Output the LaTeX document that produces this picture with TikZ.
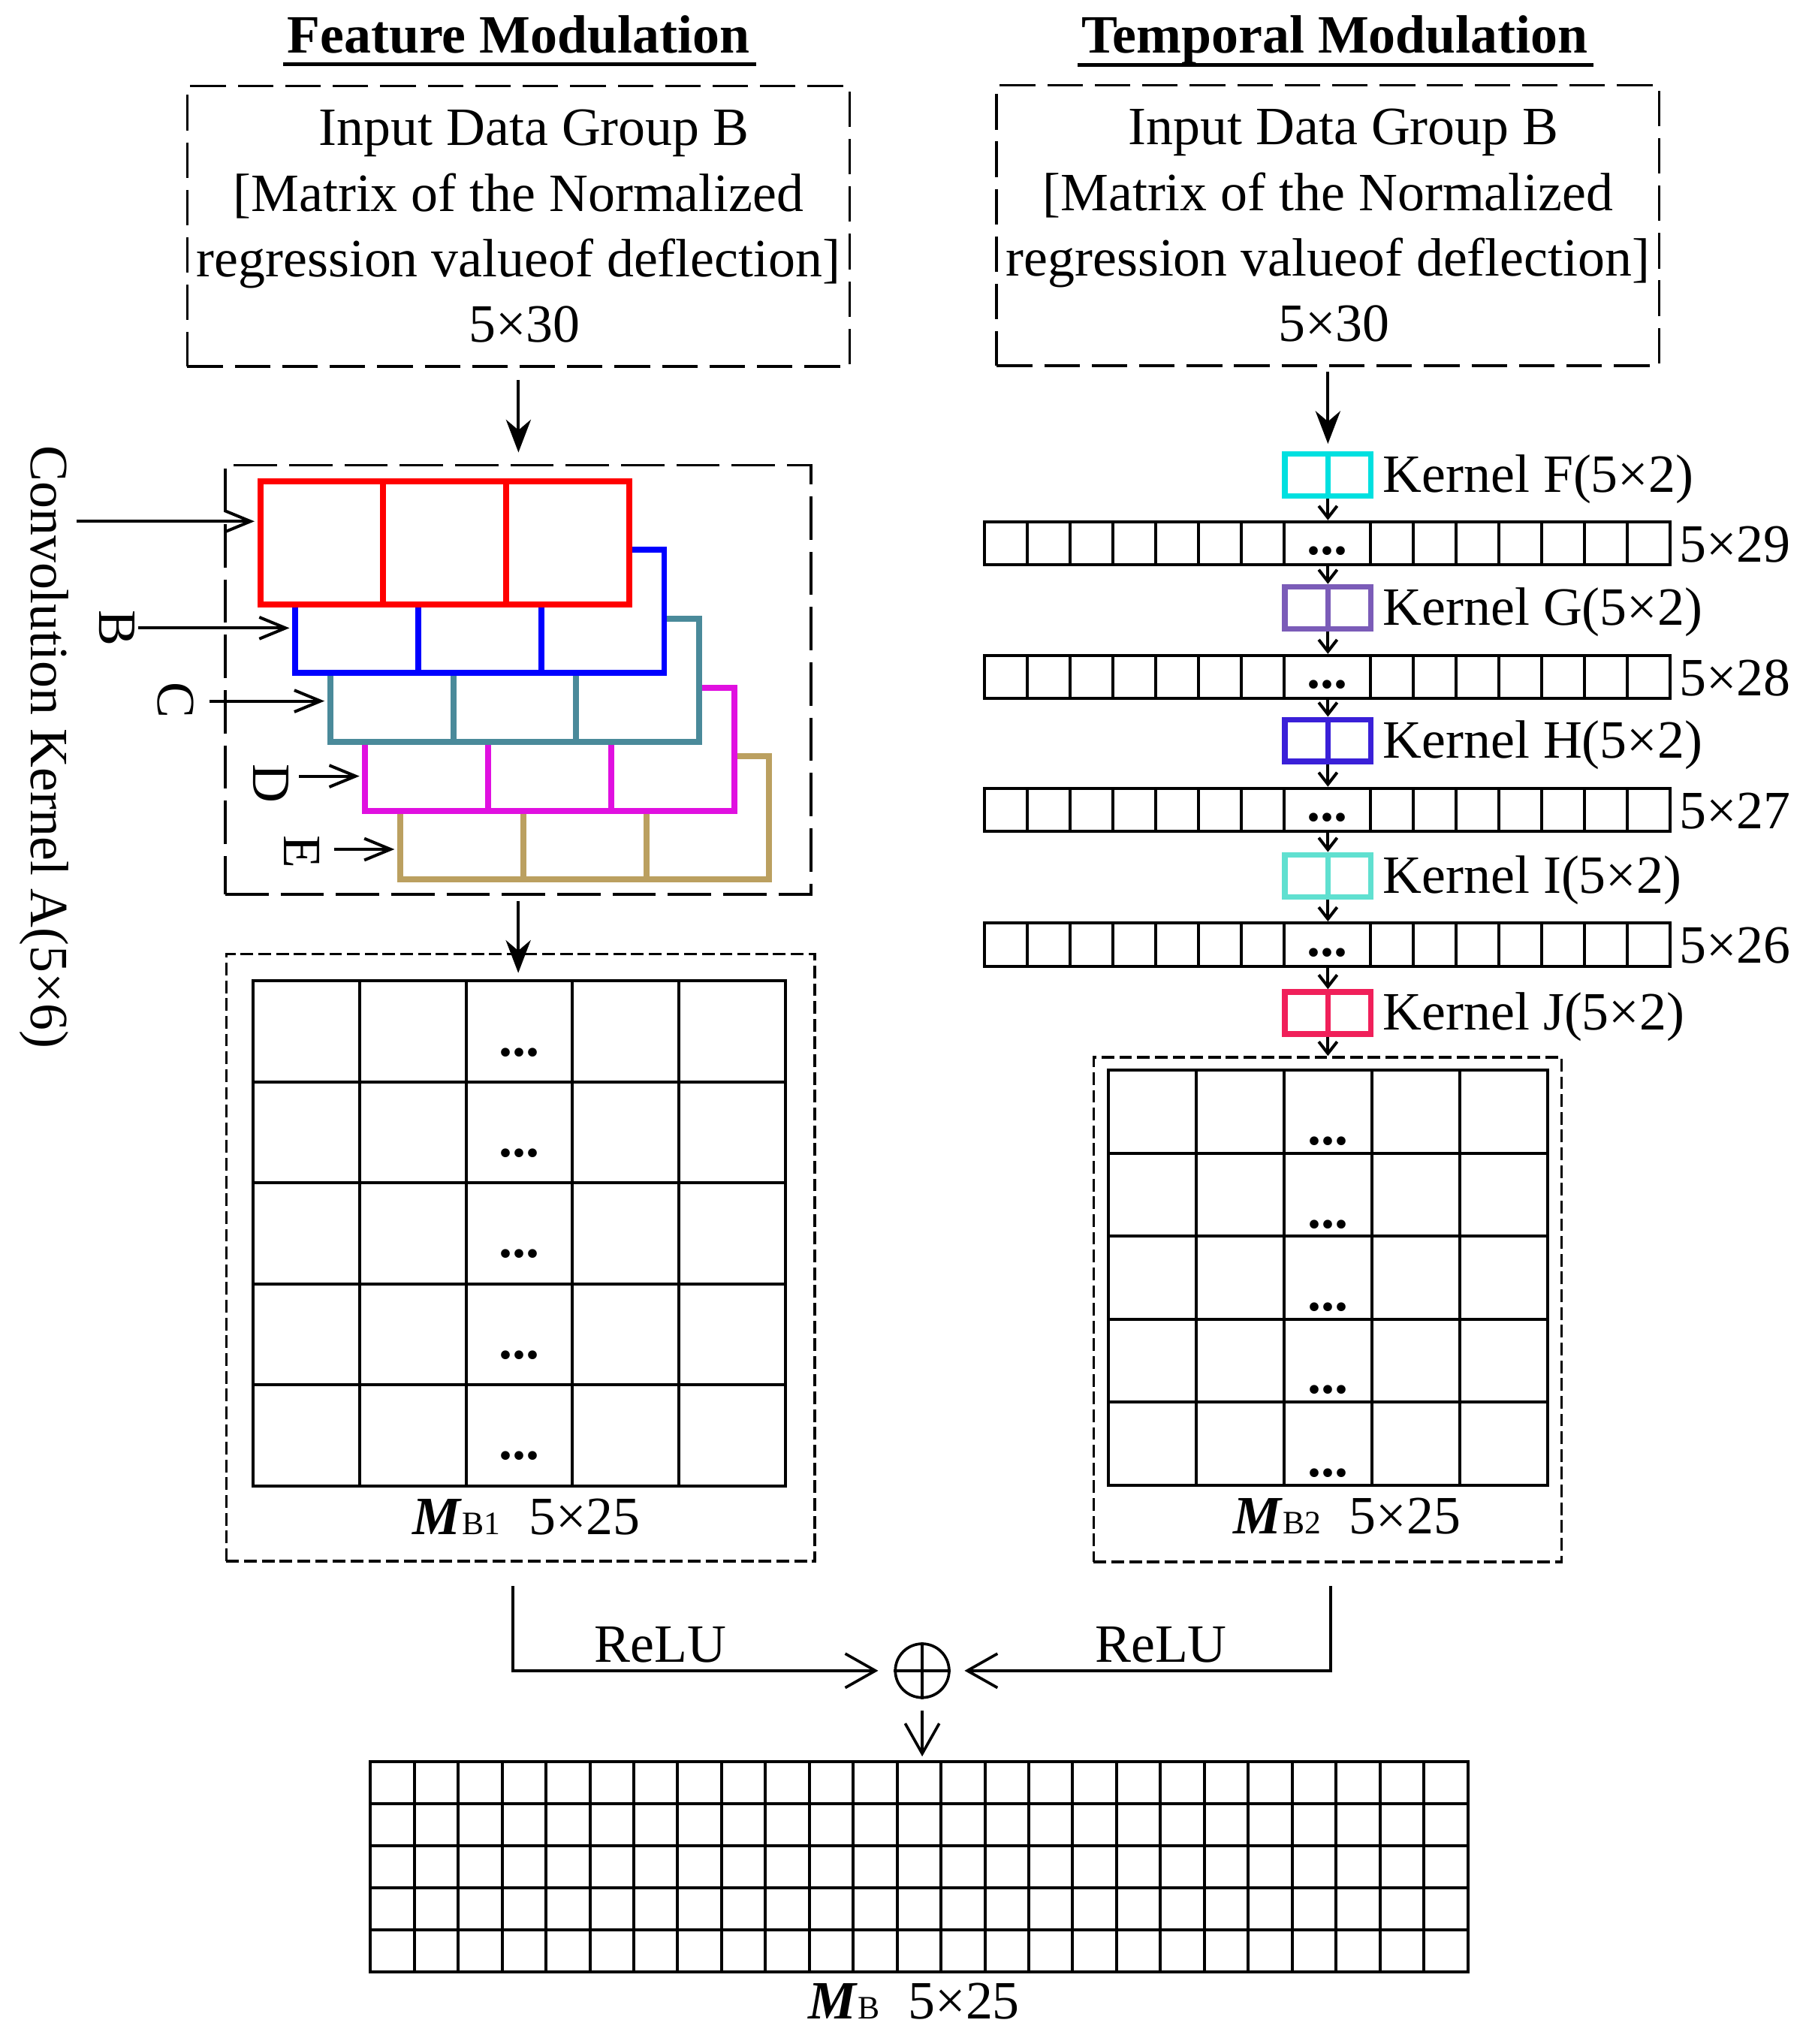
\documentclass[tikz,border=0pt]{standalone}
\usepackage{fontspec}
\setmainfont{Liberation Serif}
\usetikzlibrary{arrows.meta}

\newcommand{\figfont}{\fontsize{11.7pt}{14.2pt}\selectfont}
\newcommand{\subfont}{\fontsize{7.1pt}{8pt}\selectfont}

\definecolor{layerA}{RGB}{255,0,0}
\definecolor{layerB}{RGB}{0,0,255}
\definecolor{layerC}{RGB}{74,138,154}
\definecolor{layerD}{RGB}{224,16,224}
\definecolor{layerE}{RGB}{187,160,96}
\definecolor{kerF}{RGB}{0,224,224}
\definecolor{kerG}{RGB}{123,92,184}
\definecolor{kerH}{RGB}{58,32,216}
\definecolor{kerI}{RGB}{96,224,208}
\definecolor{kerJ}{RGB}{240,32,90}

\begin{document}
\begin{tikzpicture}[
        x=0.01cm, y=-0.01cm, font=\figfont, line width=0.65pt,
        inbox/.style={draw, dash pattern=on 7.7pt off 2.6pt, line width=0.6pt, minimum width=5.05cm, minimum height=2.14cm, align=center, inner sep=0pt},
        convbox/.style={draw, dash pattern=on 9.4pt off 2.6pt, line width=0.6pt, inner sep=0pt},
        outbox/.style={draw, dash pattern=on 2.75pt off 1.1pt, line width=0.6pt, inner sep=0pt},
        layer/.style={draw, fill=white, line width=1.3pt, minimum width=2.813cm, minimum height=0.939cm, inner sep=0pt},
        kernel/.style={draw, line width=1.2pt, minimum width=0.655cm, minimum height=0.32cm, inner sep=0pt},
        featrow/.style={draw, minimum width=5.23cm, minimum height=0.33cm, inner sep=0pt},
        matbox/.style={draw, inner sep=0pt},
        ellip/.style={font=\figfont\bfseries, inner sep=0pt, anchor=base},
        headline/.style={font=\figfont\bfseries, inner sep=0pt, anchor=base},
        lbl/.style={inner sep=0pt, anchor=base west},
        vlbl/.style={inner sep=0pt, anchor=base, rotate=-90},
        txt/.style={inner sep=0pt, anchor=base},
        feed/.style={-{Stealth[length=0.25cm, width=0.19cm, inset=0.08cm]}},
        barb/.style={-{Straight Barb[length=0.2cm, width=0.165cm]}},
        smallarrow/.style={-{Straight Barb[length=0.09cm, width=0.14cm]}},
        sumarrow/.style={-{Straight Barb[length=0.23cm, width=0.26cm]}, line width=0.6pt}
    ]
    \useasboundingbox (0,0) rectangle (1380,1559.3);

    % Titles
    \node[headline] (ftitle) at (395.5,40.2) {Feature Modulation};
    \node[headline] (ttitle) at (1018.2,40.5) {Temporal Modulation};
    \draw[line width=0.8pt] ([shift={(-0.02cm,-0.09cm)}]ftitle.base west) -- ([shift={(0.04cm,-0.09cm)}]ftitle.base east);
    \draw[line width=0.8pt] ([shift={(-0.02cm,-0.09cm)}]ttitle.base west) -- ([shift={(0.03cm,-0.09cm)}]ttitle.base east);

    % Input data boxes
    \node[inbox] (finput) at (395.5,172.6) {\hspace*{0.58em}Input Data Group B\\{[}Matrix of the Normalized\\regression valueof deflection{]}\\\hspace*{0.22em}5×30};
    \node[inbox] (tinput) at (1013,172) {\hspace*{0.58em}Input Data Group B\\{[}Matrix of the Normalized\\regression valueof deflection{]}\\\hspace*{0.22em}5×30};

    % Feature modulation: stacked kernels A to E
    \node[convbox, minimum width=4.467cm, minimum height=3.27cm] (convbox) at (395.35,518.5) {};
    \foreach \n/\col/\i in {E/layerE/4, D/layerD/3, C/layerC/2, B/layerB/1, A/layerA/0} {
        \node[layer, draw=\col] (k\n) at ({339.25+26.7*\i},{414.05+52.5*\i}) {};
        \draw[\col, line width=1.3pt] ([xshift=-0.469cm]k\n.north) -- ([xshift=-0.469cm]k\n.south)
            ([xshift=0.469cm]k\n.north) -- ([xshift=0.469cm]k\n.south);
    }

    % Kernel labels and arrows
    \node[vlbl] (convlbl) at (23.5,569.8) {Convolution Kernel A(5×6)};
    \node[vlbl] (lB) at (75.7,479) {B};
    \node[vlbl] (lC) at (120.3,534.3) {C};
    \node[vlbl] (lD) at (193.5,597.7) {D};
    \node[vlbl] (lE) at (216.8,649.7) {E};
    \foreach \n/\x/\y in {A/58.3/397.7, B/105.4/479.1, C/159.6/534.8, D/228.1/592.1, E/254.7/647.9} {
        \coordinate (s\n) at (\x,\y);
        \draw[barb, shorten >=0.6pt] (s\n) -- (s\n -| k\n.west);
    }
    \draw[feed, shorten <=0.09cm, shorten >=0.087cm] (finput.south) -- (finput.south |- convbox.north);

    % Output matrix MB1
    \node[outbox, minimum width=4.486cm, minimum height=4.629cm] (mbox1) at (397.1,959.45) {};
    \node[matbox, minimum width=4.062cm, minimum height=3.85cm] (grid1) at (396.1,941) {};
    \foreach \i in {1,...,4} {
        \draw ({193+81.24*\i},748.5) -- ({193+81.24*\i},1133.5);
        \draw (193,{748.5+77*\i}) -- (599.2,{748.5+77*\i});
    }
    \foreach \i in {1,...,5} \node[ellip] (da\i) at (396.1,{748.5+77*\i-20}) {...};
    \node[txt] (mb1lbl) at (401.5,1170.6) {\textbf{\textit{M}}{\subfont B1}\hspace{0.53em}5×25};
    \draw[feed, shorten <=0.045cm, shorten >=0.05cm] (convbox.south) -- (convbox.south |- grid1.north);

    % Temporal modulation: kernels F to J
    \foreach \k/\c/\t in {F/kerF/345.3, G/kerG/446.6, H/kerH/547.9, I/kerI/651.1, J/kerJ/755.7} {
        \node[kernel, draw=\c] (k\k) at (1013,{\t+17}) {};
        \draw[\c, line width=1.2pt] (k\k.north) -- (k\k.south);
        \node[lbl] (l\k) at ([xshift=0.06cm, yshift=0.05cm]k\k.south east) {Kernel \k(5×2)};
    }

    % Feature rows 5x29 to 5x26
    \foreach \r/\t/\s in {1/398/29, 2/500/28, 3/601.3/27, 4/704.1/26} {
        \node[featrow] (row\r) at (1012.5,{\t+16.5}) {};
        \foreach \j in {1,2,3,4,5,6,7,9,10,11,12,13,14,15}
            \draw ({751+32.6875*\j},\t) -- ({751+32.6875*\j},{\t+33});
        \node[ellip] (rd\r) at ([yshift=0.09cm]row\r.south) {...};
        \node[lbl] (sz\r) at ([xshift=0.045cm, yshift=0.035cm]row\r.south east) {5×\s};
    }
    \draw[feed, shorten <=0.036cm, shorten >=0.056cm] (tinput.south) -- (tinput.south |- kF.north);
    \foreach \a/\r/\b in {F/1/G, G/2/H, H/3/I, I/4/J} {
        \draw[smallarrow] (k\a.south) -- (k\a.south |- row\r.north);
        \draw[smallarrow] (k\b.north |- row\r.south) -- (k\b.north);
    }

    % Output matrix MB2
    \node[outbox, minimum width=3.568cm, minimum height=3.846cm] (mbox2) at (1012.8,999) {};
    \node[matbox, minimum width=3.35cm, minimum height=3.162cm] (grid2) at (1012.9,974.7) {};
    \foreach \i in {1,...,4} {
        \draw ({845.4+67*\i},816.6) -- ({845.4+67*\i},1132.8);
        \draw (845.4,{816.6+63.24*\i}) -- (1180.4,{816.6+63.24*\i});
    }
    \foreach \i in {1,...,5} \node[ellip] (db\i) at (1012.9,{816.6+63.24*\i-6.4}) {...};
    \node[txt] (mb2lbl) at (1027.5,1169.9) {\textbf{\textit{M}}{\subfont B2}\hspace{0.53em}5×25};
    \draw[smallarrow] (kJ.south) -- (kJ.south |- mbox2.north);

    % Fusion with ReLU
    \node[draw, circle, minimum size=0.41cm, inner sep=0pt, line width=0.6pt] (plus) at (703.5,1274.5) {};
    \draw[line width=0.6pt] (plus.north) -- (plus.south) (plus.west) -- (plus.east);
    \coordinate (rl) at (391.2,1210);
    \coordinate (rr) at (1015.2,1210);
    \draw[sumarrow, shorten >=0.12cm] (rl) |- (plus.west);
    \draw[sumarrow, shorten >=0.107cm] (rr) |- (plus.east);
    \node[txt] (relu1) at (503.8,1267.9) {ReLU};
    \node[txt] (relu2) at (885.6,1267.9) {ReLU};

    % Output matrix MB
    \node[matbox, minimum width=8.37cm, minimum height=1.599cm] (gridB) at (701.1,1424.05) {};
    \foreach \i in {1,...,24} \draw ({282.6+33.48*\i},1344.1) -- ({282.6+33.48*\i},1504);
    \foreach \i in {1,...,4} \draw (282.6,{1344.1+31.98*\i}) -- (1119.6,{1344.1+31.98*\i});
    \draw[sumarrow, shorten <=0.09cm, shorten >=0.03cm] (plus.south) -- (plus.south |- gridB.north);
    \node[txt] (mblbl) at (697.3,1540.1) {\textbf{\textit{M}}{\subfont B}\hspace{0.53em}5×25};

\end{tikzpicture}
\end{document}
